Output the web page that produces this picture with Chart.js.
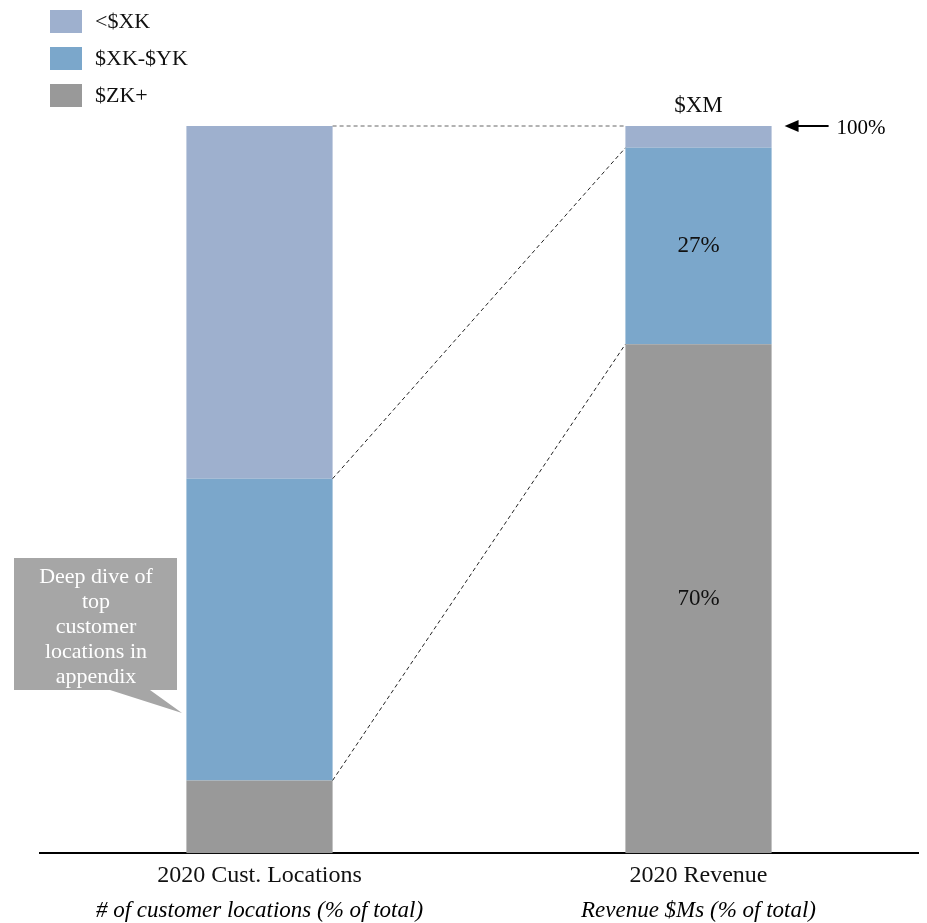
<!DOCTYPE html>
<html>
<head>
<meta charset="utf-8">
<script src="https://cdn.jsdelivr.net/npm/chart.js@4"></script>
<style>
  html,body{margin:0;padding:0;background:#fff;}
  #wrap{position:relative;width:927px;height:923px;}
</style>
</head>
<body>
<div id="wrap"><canvas id="c" width="927" height="923"></canvas></div>
<script>
// categories + series (% of total)
const categories = ['2020 Cust. Locations', '2020 Revenue'];
const subtitles = ['# of customer locations (% of total)', 'Revenue $Ms (% of total)'];
const seriesNames = ['$ZK+', '$XK-$YK', '<$XK'];
const seriesColors = ['#999999', '#7ba7cb', '#9eb0ce'];
const big = [10, 70];
const mid = [41.5, 27];
const small = [48.5, 3];
const revLabels = ['70%', '27%'];
const calloutLines = ['Deep dive of', 'top', 'customer', 'locations in', 'appendix'];

const SERIF = "'Liberation Serif', 'DejaVu Serif', serif";

const overlay = {
  id: 'overlay',
  afterDatasetsDraw(chart) {
    const ctx = chart.ctx;
    const x = chart.scales.x, y = chart.scales.y;
    const m0 = chart.getDatasetMeta(0).data;
    const right1 = m0[0].x + m0[0].width / 2;
    const left2 = m0[1].x - m0[1].width / 2;

    // dashed connectors between cumulative levels
    ctx.save();
    ctx.setLineDash([4, 3]);
    ctx.lineWidth = 1;
    const levels = [big, big.map((v, i) => v + mid[i]), big.map((v, i) => v + mid[i] + small[i])];
    levels.forEach((lv, k) => {
      ctx.strokeStyle = k === 2 ? '#666' : '#222';
      ctx.beginPath();
      ctx.moveTo(right1, y.getPixelForValue(lv[0]));
      ctx.lineTo(left2, y.getPixelForValue(lv[1]));
      ctx.stroke();
    });
    ctx.restore();

    // revenue labels
    ctx.save();
    ctx.font = "23px " + SERIF;
    ctx.fillStyle = '#111';
    ctx.textAlign = 'center';
    ctx.textBaseline = 'middle';
    const cx = m0[1].x;
    ctx.fillText(revLabels[0], cx, y.getPixelForValue(big[1] / 2));
    ctx.fillText(revLabels[1], cx, y.getPixelForValue(big[1] + mid[1] / 2));
    ctx.fillText('$XM', cx, y.getPixelForValue(100) - 20);

    // arrow + 100%
    const ty = y.getPixelForValue(100);
    const ax = m0[1].x + m0[1].width / 2 + 13;
    ctx.strokeStyle = '#000';
    ctx.lineWidth = 2;
    ctx.beginPath();
    ctx.moveTo(ax + 8, ty);
    ctx.lineTo(ax + 44, ty);
    ctx.stroke();
    ctx.fillStyle = '#000';
    ctx.beginPath();
    ctx.moveTo(ax, ty);
    ctx.lineTo(ax + 14, ty - 6);
    ctx.lineTo(ax + 14, ty + 6);
    ctx.closePath();
    ctx.fill();
    ctx.textAlign = 'left';
    ctx.font = "21px " + SERIF;
    ctx.fillText('100%', ax + 52, ty + 2);

    // subtitles under the axis
    ctx.font = "italic 23px " + SERIF;
    ctx.textAlign = 'center';
    categories.forEach((c, i) => {
      ctx.fillText(subtitles[i], x.getPixelForValue(i), chart.chartArea.bottom + 58);
    });

    // legend
    ctx.font = "22px " + SERIF;
    ctx.textAlign = 'left';
    [2, 1, 0].forEach((di, row) => {
      const ly = 10 + row * 37;
      ctx.fillStyle = seriesColors[di];
      ctx.fillRect(50, ly, 32, 23);
      ctx.fillStyle = '#111';
      ctx.fillText(seriesNames[di], 95, ly + 12);
    });

    // callout box
    ctx.fillStyle = '#a6a6a6';
    ctx.beginPath();
    ctx.moveTo(14, 558);
    ctx.lineTo(177, 558);
    ctx.lineTo(177, 690);
    ctx.lineTo(150, 690);
    ctx.lineTo(182, 713);
    ctx.lineTo(110, 690);
    ctx.lineTo(14, 690);
    ctx.closePath();
    ctx.fill();
    ctx.fillStyle = '#fff';
    ctx.font = "22px " + SERIF;
    ctx.textAlign = 'center';
    calloutLines.forEach((t, i) => ctx.fillText(t, 96, 577 + i * 25));
    ctx.restore();
  }
};

new Chart(document.getElementById('c'), {
  type: 'bar',
  data: {
    labels: categories,
    datasets: [
      {label: seriesNames[0], data: big, backgroundColor: seriesColors[0]},
      {label: seriesNames[1], data: mid, backgroundColor: seriesColors[1]},
      {label: seriesNames[2], data: small, backgroundColor: seriesColors[2]}
    ]
  },
  options: {
    responsive: false,
    animation: false,
    barPercentage: 1,
    categoryPercentage: 0.333,
    layout: {padding: {top: 126, left: 40, right: 9, bottom: 33}},
    plugins: {legend: {display: false}, tooltip: {enabled: false}},
    scales: {
      x: {
        stacked: true,
        grid: {display: false},
        border: {color: '#000', width: 2},
        ticks: {color: '#111', font: {family: SERIF, size: 24}, padding: 0}
      },
      y: {stacked: true, display: false, min: 0, max: 100}
    }
  },
  plugins: [overlay]
});
</script>
</body>
</html>
